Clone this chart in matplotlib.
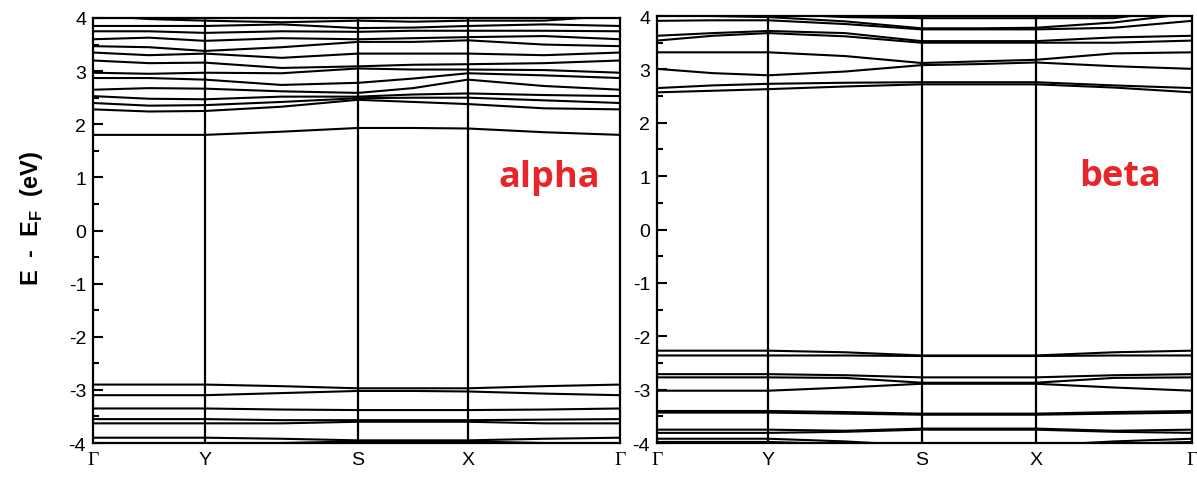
import numpy as np
import matplotlib
matplotlib.use("Agg")
import matplotlib.pyplot as plt
from matplotlib.ticker import MultipleLocator

# k-path lengths (Gamma, Y, S, X, Gamma) for each phase
kpath_alpha = [0.0, 1.12, 2.65, 3.75, 5.27]
kpath_beta = [0.0, 1.12, 2.66, 3.81, 5.38]
klabels = ["\u0393", "Y", "S", "X", "\u0393"]

# energies (eV) sampled at G, G-Y, Y, Y-S, S, S-X, X, X-G, G
alpha_cond = [
    [1.80, 1.80, 1.80, 1.86, 1.93, 1.93, 1.92, 1.85, 1.80],
    [2.28, 2.24, 2.25, 2.33, 2.46, 2.42, 2.38, 2.30, 2.28],
    [2.40, 2.35, 2.36, 2.42, 2.49, 2.50, 2.50, 2.45, 2.40],
    [2.53, 2.48, 2.47, 2.52, 2.52, 2.56, 2.58, 2.55, 2.53],
    [2.65, 2.68, 2.67, 2.62, 2.59, 2.68, 2.84, 2.72, 2.65],
    [2.87, 2.87, 2.84, 2.74, 2.78, 2.86, 2.96, 2.92, 2.87],
    [2.97, 2.95, 2.97, 2.96, 3.05, 3.03, 3.03, 3.02, 2.97],
    [3.20, 3.15, 3.16, 3.06, 3.09, 3.12, 3.13, 3.15, 3.20],
    [3.35, 3.30, 3.33, 3.25, 3.33, 3.33, 3.33, 3.30, 3.35],
    [3.47, 3.45, 3.38, 3.45, 3.55, 3.55, 3.58, 3.50, 3.47],
    [3.60, 3.63, 3.57, 3.62, 3.60, 3.62, 3.64, 3.66, 3.60],
    [3.75, 3.75, 3.72, 3.75, 3.74, 3.76, 3.76, 3.76, 3.75],
    [3.85, 3.85, 3.85, 3.88, 3.81, 3.82, 3.85, 3.88, 3.85],
    [4.05, 3.98, 3.95, 3.92, 3.95, 3.93, 3.95, 3.95, 4.05],
]
alpha_val = [
    [-2.90, -2.90, -2.90, -2.93, -2.97, -2.97, -2.97, -2.93, -2.90],
    [-3.10, -3.10, -3.10, -3.06, -3.02, -3.02, -3.03, -3.07, -3.10],
    [-3.35, -3.35, -3.35, -3.37, -3.38, -3.38, -3.38, -3.37, -3.35],
    [-3.55, -3.55, -3.55, -3.57, -3.57, -3.57, -3.57, -3.56, -3.55],
    [-3.63, -3.63, -3.63, -3.63, -3.60, -3.60, -3.60, -3.63, -3.63],
    [-3.90, -3.90, -3.90, -3.92, -3.95, -3.95, -3.95, -3.92, -3.90],
    [-4.05, -4.05, -4.05, -4.00, -3.97, -3.97, -3.97, -4.00, -4.05],
]
beta_cond = [
    [2.57, 2.60, 2.63, 2.68, 2.72, 2.72, 2.72, 2.66, 2.57],
    [2.65, 2.70, 2.73, 2.75, 2.76, 2.76, 2.76, 2.70, 2.65],
    [3.01, 2.93, 2.89, 2.96, 3.08, 3.10, 3.13, 3.06, 3.01],
    [3.32, 3.32, 3.32, 3.25, 3.12, 3.15, 3.18, 3.30, 3.32],
    [3.54, 3.63, 3.68, 3.62, 3.50, 3.50, 3.50, 3.50, 3.54],
    [3.63, 3.68, 3.72, 3.68, 3.53, 3.53, 3.53, 3.60, 3.63],
    [3.91, 3.92, 3.92, 3.85, 3.75, 3.75, 3.75, 3.78, 3.91],
    [4.05, 4.00, 3.98, 3.90, 3.77, 3.77, 3.78, 3.88, 4.05],
    [4.15, 4.10, 4.05, 3.98, 3.96, 3.96, 3.96, 3.96, 4.15],
]
beta_val = [
    [-2.27, -2.27, -2.27, -2.30, -2.36, -2.36, -2.36, -2.30, -2.27],
    [-2.36, -2.36, -2.36, -2.36, -2.37, -2.37, -2.37, -2.36, -2.36],
    [-2.71, -2.71, -2.71, -2.73, -2.77, -2.77, -2.77, -2.73, -2.71],
    [-2.77, -2.77, -2.77, -2.78, -2.87, -2.87, -2.87, -2.78, -2.77],
    [-3.02, -3.02, -3.02, -2.96, -2.89, -2.89, -2.89, -2.96, -3.02],
    [-3.40, -3.40, -3.40, -3.42, -3.45, -3.45, -3.45, -3.42, -3.40],
    [-3.43, -3.43, -3.43, -3.45, -3.47, -3.47, -3.47, -3.45, -3.43],
    [-3.75, -3.75, -3.75, -3.77, -3.73, -3.73, -3.73, -3.77, -3.75],
    [-3.81, -3.81, -3.81, -3.79, -3.75, -3.75, -3.75, -3.79, -3.81],
    [-3.92, -3.92, -3.92, -3.97, -4.05, -4.05, -4.05, -3.97, -3.92],
    [-3.98, -3.98, -3.98, -4.02, -4.10, -4.10, -4.10, -4.02, -3.98],
]

plt.rcParams["font.family"] = ["Liberation Sans", "DejaVu Sans"]
plt.rcParams["axes.unicode_minus"] = False

fig = plt.figure(figsize=(11.97, 4.81), dpi=100)
ax1 = fig.add_axes([0.0777, 0.0769, 0.4403, 0.8836])
ax2 = fig.add_axes([0.5489, 0.0769, 0.4470, 0.8877])


def kgrid(kp):
    # high-symmetry points with the sampled point half way between them
    k = []
    for a, b in zip(kp[:-1], kp[1:]):
        k += [a, (a + b) / 2]
    return k + [kp[-1]]


def draw(ax, kp, bands, name):
    k = kgrid(kp)
    for e in bands:
        ax.plot(k, e, color="black", lw=1.5, solid_capstyle="butt")
    for x in kp[1:-1]:
        ax.axvline(x, color="black", lw=1.6)
    ax.set_xlim(kp[0], kp[-1])
    ax.set_ylim(-4, 4)
    ax.set_xticks(kp)
    ax.set_xticklabels(klabels)
    for t in ax.get_xticklabels():
        if t.get_text() == "\u0393":
            t.set_family("Liberation Serif")
            t.set_fontsize(15)
    ax.tick_params(axis="x", length=0, pad=6, labelsize=14)
    ax.yaxis.set_major_locator(MultipleLocator(1))
    ax.yaxis.set_minor_locator(MultipleLocator(0.5))
    ax.tick_params(axis="y", which="major", direction="in", length=7, width=1.5,
                   labelsize=14, pad=5)
    ax.tick_params(axis="y", which="minor", direction="in", length=4, width=1.5)
    for s in ax.spines.values():
        s.set_linewidth(1.6)
    ax.text(0.865, 0.625, name, transform=ax.transAxes, color="#e8262a",
            fontsize=26, fontweight="bold", family="Open Sans",
            ha="center", va="center")


draw(ax1, kpath_alpha, alpha_cond + alpha_val, "alpha")
draw(ax2, kpath_beta, beta_cond + beta_val, "beta")
ax1.set_ylabel("E  -  E$_\\mathregular{F}$  (eV)", fontsize=17, fontweight="bold",
               labelpad=16)
ax1.yaxis.set_label_coords(-0.092, 0.53)

fig.savefig("out.png", dpi=100)
